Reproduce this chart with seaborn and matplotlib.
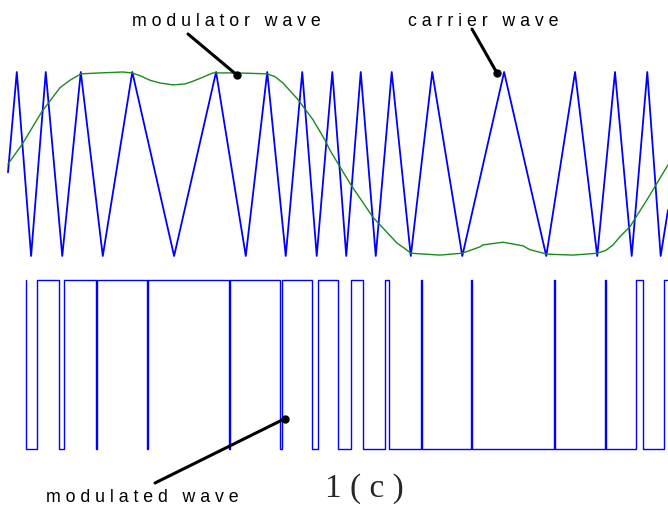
import pandas as pd
import seaborn as sns
import matplotlib
matplotlib.use("Agg")
import matplotlib.pyplot as plt

sns.set_style("white")
plt.rcParams["font.family"] = ["Liberation Sans", "DejaVu Sans"]

# carrier wave: corner points (angle in degrees, level -1..1)
carrier_deg = [0.0, 4.8, 12.6, 20.6, 29.6, 39.7, 51.7, 67.8, 90.6, 113.5, 129.7, 141.4, 151.5,
               160.5, 168.4, 176.9, 184.5, 192.4, 200.6, 209.3, 219.7, 231.4, 247.8, 270.6,
               293.6, 309.3, 321.4, 331.1, 340.2, 348.7, 356.0, 360.0]
carrier_level = [-0.09, 1, -1, 1, -1, 1, -1, 1, -1, 1, -1, 1, -1,
                 1, -1, 1, -1, 1, -1, 1, -1, 1, -1, 1,
                 -1, 1, -1, 1, -1, 1, -1, -0.5]

# modulator wave (sine with flat tops)
modulator_deg = [0.0, 7.6, 18.5, 28.4, 33.8, 39.8, 50.2, 62.7, 67.6, 72.0, 77.5, 83.0, 90.0,
                 96.5, 100.9, 104.7, 111.8, 124.9, 141.3, 145.6, 150.0, 158.2, 166.4, 172.9,
                 175.6, 186.5, 199.1, 212.2, 216.5, 219.8, 235.6, 247.6, 252.0, 257.5, 259.0,
                 270.0, 281.0, 284.5, 294.0, 308.2, 321.3, 326.0, 330.0, 333.8, 339.3, 348.5, 360.0]
modulator_level = [0.0, 0.21, 0.57, 0.83, 0.91, 0.98, 0.99, 1.0, 0.99, 0.96, 0.91, 0.88, 0.86,
                   0.87, 0.90, 0.93, 0.99, 0.99, 0.98, 0.95, 0.88, 0.70, 0.48, 0.26,
                   0.15, -0.21, -0.58, -0.86, -0.92, -0.97, -0.99, -0.97, -0.94, -0.90, -0.88,
                   -0.85, -0.89, -0.93, -0.98, -0.99, -0.97, -0.94, -0.88, -0.79, -0.68, -0.39, -0.01]

# modulated (PWM) wave: switching angles and the level after each switch
pwm_deg = [0.8, 0.9, 7.3, 19.3, 22.3, 39.8, 40.3, 68.1, 68.6, 113.6, 114.1, 141.9, 142.6,
           159.4, 162.7, 173.7, 181.2, 187.8, 199.7, 201.9, 219.8, 220.3, 247.6, 248.1,
           293.4, 294.1, 321.6, 322.1, 339.0, 342.7, 354.3, 356.5]
pwm_level = [1, 0, 1, 0, 1, 0, 1, 0, 1, 0, 1, 0, 1,
             0, 1, 0, 1, 0, 1, 0, 1, 0, 1, 0,
             1, 0, 1, 0, 1, 0, 1, 1]

carrier_df = pd.DataFrame({"deg": carrier_deg, "level": carrier_level})
modulator_df = pd.DataFrame({"deg": modulator_deg, "level": modulator_level})
pwm_df = pd.DataFrame({"deg": pwm_deg, "level": pwm_level})

W, H = 668, 508
fig = plt.figure(figsize=(W / 100, H / 100), dpi=100)

# upper part: carrier + modulator
ax_top = fig.add_axes([8 / W, (H - 256) / H, 660 / W, 184 / H])
sns.lineplot(data=carrier_df, x="deg", y="level", ax=ax_top, color="#0000ff", lw=1.3,
             estimator=None, sort=False, legend=False, clip_on=False)
sns.lineplot(data=modulator_df, x="deg", y="level", ax=ax_top, color="#1a8a1a", lw=1.0,
             estimator=None, sort=False, legend=False, clip_on=False)
ax_top.set_xlim(0, 360)
ax_top.set_ylim(-1, 1)
ax_top.axis("off")

# lower part: pwm pulses
ax_bot = fig.add_axes([24.08 / W, (H - 449) / H, (W - 24.08) / W, 169 / H])
sns.lineplot(data=pwm_df, x="deg", y="level", ax=ax_bot, color="#0000ff", lw=1.0,
             estimator=None, sort=False, legend=False, clip_on=False, drawstyle="steps-post")
ax_bot.set_xlim(0, (W - 24.08) / 1.806)
ax_bot.set_ylim(0, 1)
ax_bot.axis("off")

# labels with pointer lines
label_kw = dict(fontsize=12.8, ha="center", va="center", color="black")
fig.text(226 / W, 1 - 21 / H, "m o d u l a t o r   w a v e", **label_kw)
fig.text(483 / W, 1 - 21 / H, "c a r r i e r   w a v e", **label_kw)
fig.text(142 / W, 1 - 497 / H, "m o d u l a t e d   w a v e", **label_kw)
fig.text(364 / W, 1 - 489 / H, "1 ( c )", fontsize=24, ha="center", va="center",
         family=["Liberation Serif", "DejaVu Serif"])

arrow_kw = dict(arrowstyle="-", color="black", lw=2.2, shrinkA=0, shrinkB=0)
pointers = [(ax_top, (124.7, 0.97), (188, H - 34)),
            (ax_top, (266.7, 0.99), (472, H - 29)),
            (ax_bot, (144.5, 0.18), (155, H - 483))]
for ax, xy, tail in pointers:
    ax.annotate("", xy=xy, xycoords="data", xytext=tail, textcoords="figure pixels",
                arrowprops=arrow_kw, annotation_clip=False)
    ax.plot(*xy, marker="o", color="black", markersize=5, clip_on=False)

fig.savefig("out.png", dpi=100)
